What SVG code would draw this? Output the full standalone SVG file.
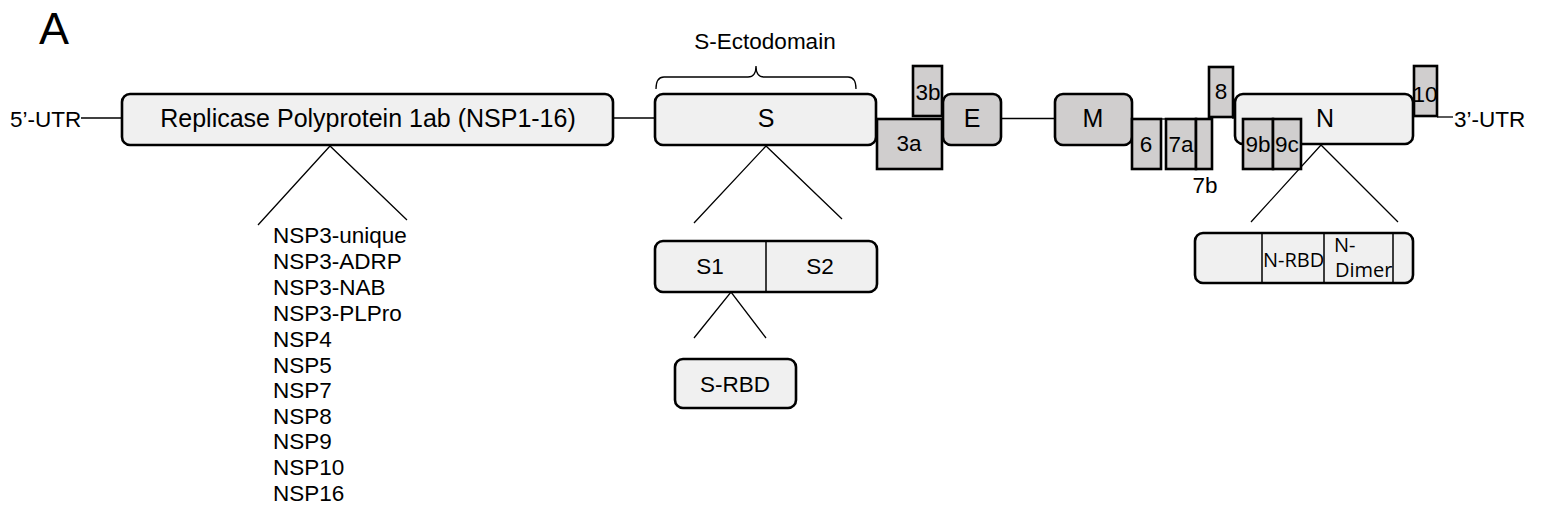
<svg xmlns="http://www.w3.org/2000/svg" width="1545" height="522" viewBox="0 0 1545 522">
<style>
  text { font-family: "Liberation Sans", Arial, sans-serif; fill: #000; }
  .lt { fill: #f0f0f0; stroke: #000; stroke-width: 2.6; }
  .gr { fill: #d0cece; stroke: #000; stroke-width: 2.6; }
  .ln { fill: none; stroke: #000; stroke-width: 1.3; }
  .div { fill: none; stroke: #000; stroke-width: 1.5; }
  .big { font-size: 25px; text-anchor: middle; }
  .mid { font-size: 22.5px; text-anchor: middle; }
  .lst { font-size: 22.5px; }
  .cal { font-family: "Open Sans", "Noto Sans", sans-serif; font-size: 20px; }
</style>
<rect width="1545" height="522" fill="#fff"/>
<text x="39" y="44" font-size="45">A</text>

<g id="connectors">
  <line class="ln" x1="81" y1="118" x2="122" y2="118"/>
  <line class="ln" x1="613" y1="118" x2="655" y2="118"/>
  <line class="ln" x1="1001" y1="118.5" x2="1055" y2="118.5"/>
  <line class="ln" x1="1161" y1="119" x2="1166" y2="119"/>
  <line class="ln" x1="1232" y1="118" x2="1236" y2="118"/>
  <line class="ln" x1="1437" y1="117" x2="1453" y2="117"/>
  <path class="ln" d="M656,89 Q656,77 664,77 L748,77 Q756,77 756,66 Q756,77 764,77 L848,77 Q856,77 856,89"/>
  <polyline class="ln" points="258,225 330,146 407,220"/>
  <polyline class="ln" points="694,223 766,146 842,219"/>
  <polyline class="ln" points="694,338 731,292 766,338"/>
  <polyline class="ln" points="1251,222 1321,145 1398,222"/>
</g>

<g id="utr5"><text x="10" y="127" font-size="22.5">5’-UTR</text></g>
<g id="utr3"><text x="1454" y="127" font-size="22.5">3’-UTR</text></g>

<g id="replicase">
  <rect class="lt" x="122" y="94" width="491" height="51" rx="8"/>
  <text class="big" x="368" y="127">Replicase Polyprotein 1ab (NSP1-16)</text>
</g>

<g id="nsp-list" class="lst">
  <text x="273" y="243">NSP3-unique</text>
  <text x="273" y="269">NSP3-ADRP</text>
  <text x="273" y="295">NSP3-NAB</text>
  <text x="273" y="321">NSP3-PLPro</text>
  <text x="273" y="347">NSP4</text>
  <text x="273" y="373">NSP5</text>
  <text x="273" y="398">NSP7</text>
  <text x="273" y="424">NSP8</text>
  <text x="273" y="449">NSP9</text>
  <text x="273" y="475">NSP10</text>
  <text x="273" y="501">NSP16</text>
</g>

<g id="s-ecto"><text class="mid" x="765" y="49">S-Ectodomain</text></g>

<g id="S">
  <rect class="lt" x="655" y="94" width="221" height="51" rx="8"/>
  <text class="big" x="766" y="127">S</text>
</g>

<g id="S1S2">
  <rect class="lt" x="655" y="241" width="222" height="51" rx="8"/>
  <line class="div" x1="766" y1="241" x2="766" y2="292"/>
  <text class="mid" x="710" y="274">S1</text>
  <text class="mid" x="820" y="274">S2</text>
</g>

<g id="SRBD">
  <rect class="lt" x="675" y="359" width="121" height="49" rx="8"/>
  <text class="mid" x="735" y="392">S-RBD</text>
</g>

<g id="orf3b">
  <rect class="gr" x="913" y="66" width="29" height="50"/>
  <text class="mid" x="928" y="100">3b</text>
</g>
<g id="orf3a">
  <rect class="gr" x="877" y="119" width="65" height="50"/>
  <text class="mid" x="909" y="151">3a</text>
</g>

<g id="E">
  <rect class="gr" x="943" y="94" width="58" height="51" rx="8"/>
  <text class="big" x="972" y="127">E</text>
</g>

<g id="M">
  <rect class="gr" x="1055" y="94" width="77" height="51" rx="8"/>
  <text class="big" x="1093" y="127">M</text>
</g>

<g id="orf6">
  <rect class="gr" x="1132" y="119" width="29" height="50"/>
  <text class="mid" x="1146" y="152">6</text>
</g>
<g id="orf7a">
  <rect class="gr" x="1166" y="119" width="30" height="50"/>
  <text class="mid" x="1181" y="152">7a</text>
</g>
<g id="orf7b">
  <rect class="gr" x="1196" y="119" width="16" height="50"/>
  <text class="mid" x="1205" y="193">7b</text>
</g>
<g id="orf8">
  <rect class="gr" x="1209" y="67" width="24" height="50"/>
  <text class="mid" x="1221" y="99">8</text>
</g>

<g id="N">
  <rect class="lt" x="1235" y="94" width="178" height="50" rx="8"/>
  <text class="big" x="1325" y="127">N</text>
</g>
<g id="orf9b">
  <rect class="gr" x="1243" y="119" width="30" height="50"/>
  <text class="mid" x="1258" y="152">9b</text>
</g>
<g id="orf9c">
  <rect class="gr" x="1273" y="119" width="28" height="50"/>
  <text class="mid" x="1287" y="152">9c</text>
</g>
<g id="orf10">
  <rect class="gr" x="1414" y="66" width="23" height="50"/>
  <text class="mid" x="1425" y="102">10</text>
</g>

<g id="N-domains">
  <rect class="lt" x="1195" y="233" width="218" height="50" rx="8"/>
  <line class="div" x1="1262" y1="233" x2="1262" y2="283"/>
  <line class="div" x1="1324" y1="233" x2="1324" y2="283"/>
  <line class="div" x1="1393" y1="233" x2="1393" y2="283"/>
  <text class="cal" x="1263" y="267">N-RBD</text>
  <text class="cal" x="1334" y="252">N-</text>
  <text class="cal" x="1335" y="277">Dimer</text>
</g>
</svg>
